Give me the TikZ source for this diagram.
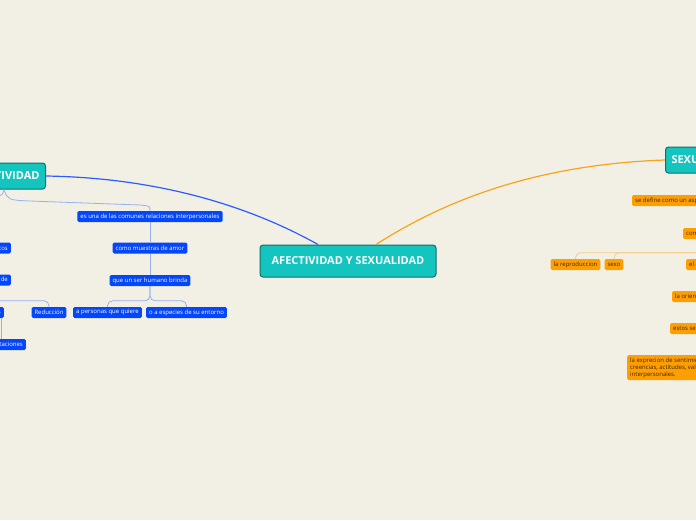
\documentclass[tikz,border=0pt]{standalone}
\usepackage{fontspec}
\setmainfont{Open Sans}
\definecolor{bg}{RGB}{242,240,228}
\definecolor{teal1}{RGB}{20,196,190}
\definecolor{teal2}{RGB}{16,112,106}
\definecolor{bluen}{RGB}{4,70,250}
\definecolor{bluel}{RGB}{44,92,255}
\definecolor{bluet}{RGB}{150,176,240}
\definecolor{orn}{RGB}{255,158,0}
\definecolor{orl}{RGB}{247,164,28}
\definecolor{ort}{RGB}{247,204,136}
\definecolor{ortx}{RGB}{60,38,0}
\tikzset{
  mainnode/.style={draw=teal2, line width=1pt, fill=teal1, rounded corners=3pt, text=white, font=\fontsize{11}{13}\selectfont\bfseries, inner xsep=6pt},
  bnode/.style={fill=bluen, rounded corners=1.5pt, text=white, font=\fontsize{6}{7}\selectfont, inner xsep=3pt, inner ysep=0pt, minimum height=11pt},
  onode/.style={fill=orn, rounded corners=1.5pt, text=ortx, font=\fontsize{6}{7}\selectfont, inner xsep=3pt, inner ysep=0pt, minimum height=11pt},
  mainb/.style={draw=bluel, line width=1.2pt},
  maino/.style={draw=orl, line width=1.2pt},
  thinb/.style={draw=bluet, line width=0.8pt},
  thino/.style={draw=ort, line width=0.8pt},
}
\begin{document}
\begin{tikzpicture}[x=1pt,y=-1pt]
\clip (0,0) rectangle (696,520);
\fill[bg] (0,0) rectangle (696,520);
% main nodes
\node[mainnode, minimum width=176pt, minimum height=32pt] (c) at (348,261) {AFECTIVIDAD Y SEXUALIDAD};
\node[mainnode, minimum height=26pt, anchor=east] (af) at (46,176) {AFECTIVIDAD};
\node[mainnode, minimum height=26pt, anchor=west] (sx) at (665,160) {SEXUALIDAD};
% blue nodes
\node[bnode] (b1) at (150,216.5) {es una de las comunes relaciones interpersonales};
\node[bnode] (b2) at (150,248) {como muestras de amor};
\node[bnode] (b3) at (150,280.5) {que un ser humano brinda};
\node[bnode] (b4) at (107.5,312.5) {a personas que quiere};
\node[bnode] (b5) at (186.5,312.5) {o a especies de su entorno};
\node[bnode] (b6) at (49,312.5) {Reducción};
\node[bnode, anchor=east] (bL1) at (11,248) {sentimientos};
\node[bnode, anchor=east] (bL2) at (11,280) {capacidad de};
\node[bnode, anchor=east] (bL3) at (4,312.5) {Aumento};
\node[bnode, anchor=east] (bL4) at (26,344.5) {limitaciones};
% orange nodes
\node[onode, anchor=west] (o1) at (632,200.5) {se define como un aspecto central del ser humano};
\node[onode, anchor=west] (o2) at (683,233.5) {comprende};
\node[onode] (o3) at (575.5,264.5) {la reproduccion};
\node[onode] (o4) at (614,264.5) {sexo};
\node[onode, anchor=west] (o5) at (686,264.5) {el erotismo};
\node[onode, anchor=west] (o6) at (672,296.5) {la orientación sexual};
\node[onode, anchor=west] (o7) at (670,328.5) {estos se viven};
\node[onode, anchor=north west, align=left, inner ysep=2.5pt] (o8) at (627,355) {la exprecion de sentimientos, pensamientos,\\creencias, actitudes, valores, conductas y relaciones\\interpersonales.};
% main connectors
\draw[mainb] (af.east) .. controls (170,178) and (260,212) .. ([xshift=-30pt]c.north);
\draw[maino] ([xshift=28pt]c.north) .. controls (430,210) and (520,165) .. (sx.west);
% thin blue connectors
\draw[thinb] (af.south) .. controls (8,200) .. (30,201) -- (140,205) .. controls (150,206) .. (b1.north);
\draw[thinb] (af.south) .. controls (3,195) .. (-8,198);
\draw[thinb] (b1.south) -- (b2.north);
\draw[thinb] (b2.south) -- (b3.north);
\draw[thinb, rounded corners=5pt] (b3.south) |- ([yshift=6pt]b4.north) -- (b4.north);
\draw[thinb, rounded corners=5pt] (b3.south) |- ([yshift=6pt]b5.north) -- (b5.north);
\draw[thinb, rounded corners=5pt] (bL2.south) |- ([yshift=6pt]b6.north) -- (b6.north);
\draw[thinb, rounded corners=5pt] (bL2.south) |- ([yshift=6pt]bL3.north) -- (bL3.north);
\draw[thinb] ([xshift=-2.5pt]bL3.south east) -- ([xshift=-2.5pt]bL3.south east |- bL4.north);
% thin orange connectors
\draw[thino, rounded corners=5pt] (o2.south) |- ([yshift=6pt]o3.north) -- (o3.north);
\draw[thino, rounded corners=5pt] (o2.south) |- ([yshift=6pt]o4.north) -- (o4.north);
\draw[thino] (o2.south) -- (o5.north -| o2.south);
\end{tikzpicture}
\end{document}
